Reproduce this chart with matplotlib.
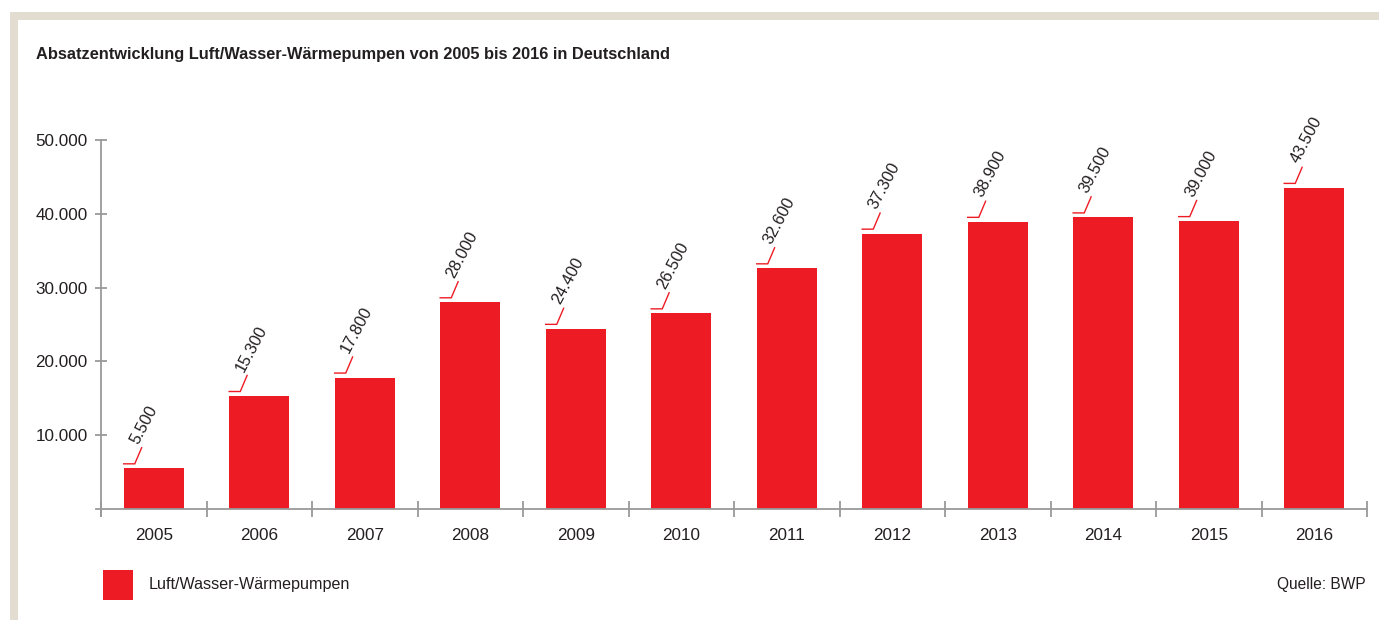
import matplotlib
matplotlib.use("Agg")
import matplotlib.pyplot as plt
from matplotlib.patches import Rectangle
from matplotlib.ticker import FuncFormatter, FixedLocator

plt.rcParams["font.family"] = ["Liberation Sans Narrow", "Liberation Sans", "DejaVu Sans"]

RED = "#ED1C24"
INK = "#231F20"
AXC = "#9A9A9A"
BEIGE = "#E3DCD1"

years = ["2005", "2006", "2007", "2008", "2009", "2010", "2011", "2012", "2013", "2014", "2015", "2016"]
sales = [5500, 15300, 17800, 28000, 24400, 26500, 32600, 37300, 38900, 39500, 39000, 43500]
yticks = [10000, 20000, 30000, 40000, 50000]

W, H = 1379, 620
fig = plt.figure(figsize=(W / 100, H / 100), dpi=100)
fig.patch.set_facecolor("white")

# beige L-shaped frame
fig.patches.append(Rectangle((10 / W, 0), 1 - 10 / W, 1 - 12 / H, transform=fig.transFigure,
                             fc=BEIGE, ec="none", zorder=-2))
fig.patches.append(Rectangle((18 / W, 0), 1, 1 - 20 / H, transform=fig.transFigure,
                             fc="white", ec="none", zorder=-1))

n = len(years)
cat_px = (1367 - 101) / n
ax = fig.add_axes([96 / W, (H - 516) / H, (1367 - 96) / W, (516 - 140) / H])
ax.set_facecolor("none")
x = list(range(n))
bw = 0.57
ax.bar(x, sales, width=bw, color=RED, zorder=2)

px_y = 50000 / (509 - 140)
ax.set_ylim(-(516 - 509) * px_y, 50000)
ax.set_xlim(-0.5 - 5 / cat_px, n - 0.5)

for s in ["top", "right"]:
    ax.spines[s].set_visible(False)
ax.spines["bottom"].set_position(("data", 0))
ax.spines["left"].set_position(("data", -0.5))
for s in ["bottom", "left"]:
    ax.spines[s].set_color(AXC)
    ax.spines[s].set_linewidth(1.3)

ax.yaxis.set_major_locator(FixedLocator(yticks))
ax.yaxis.set_major_formatter(FuncFormatter(lambda v, p: f"{int(v):,}".replace(",", ".")))
ax.tick_params(axis="y", direction="inout", length=9, width=1.3, color=AXC,
               labelsize=12.3, labelcolor=INK, pad=5)

ax.set_xticks([i - 0.5 for i in range(n + 1)])
ax.set_xticklabels([])
ax.set_xticks(x, minor=True)
ax.set_xticklabels(years, minor=True)
ax.tick_params(axis="x", which="major", direction="inout", length=11, width=1.3, color=AXC)
ax.tick_params(axis="x", which="minor", length=0, labelsize=12.3, labelcolor=INK, pad=14)

# value callouts
for i, v in enumerate(sales):
    x0 = i - bw / 2
    ax.plot([x0, x0 + 0.105, x0 + 0.17], [v + 620, v + 620, v + 2800],
            color=RED, lw=1.0, zorder=3, solid_joinstyle="miter")
    ax.text(x0 + 0.16, v + 3000, f"{v:,}".replace(",", "."), rotation=62,
            rotation_mode="anchor", ha="left", va="bottom", fontsize=11.8, color=INK)

fig.text(36 / W, 1 - 55 / H, "Absatzentwicklung Luft/Wasser-Wärmepumpen von 2005 bis 2016 in Deutschland",
         ha="left", va="center", fontsize=11.8, fontweight="bold", color=INK)

fig.patches.append(Rectangle((103 / W, (H - 600) / H), 30 / W, 30 / H, transform=fig.transFigure,
                             fc=RED, ec="none"))
fig.text(149 / W, 1 - 585 / H, "Luft/Wasser-Wärmepumpen", ha="left", va="center",
         fontsize=11.6, color=INK)
fig.text(1366 / W, 1 - 585 / H, "Quelle: BWP", ha="right", va="center", fontsize=11.2, color=INK)

fig.savefig("out.png", dpi=100, facecolor="white")
